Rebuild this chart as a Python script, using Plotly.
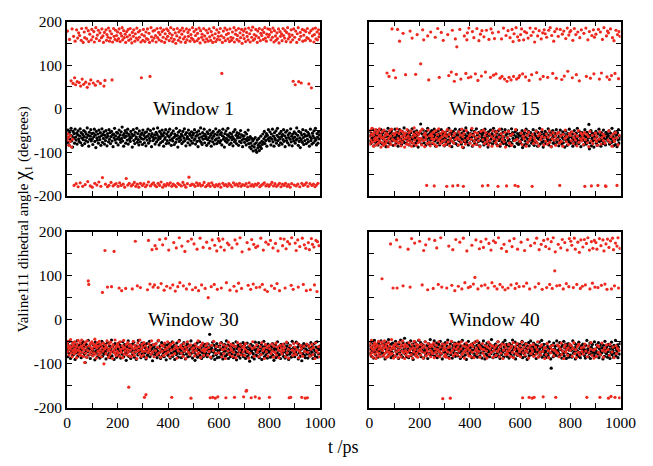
import plotly.graph_objects as go

# Sampling times (ps): one frame every 2 ps over the 1 ns run
t_ps = list(range(0, 1000, 2))

window_names = ["Window 1", "Window 15", "Window 30", "Window 40"]
x_tick_vals = [0, 100, 200, 300, 400, 500, 600, 700, 800, 900, 1000]
x_tick_text = ["0", "", "200", "", "400", "", "600", "", "800", "", "1000"]
y_tick_vals = [-200, -150, -100, -50, 0, 50, 100, 150, 200]
y_tick_text = ["-200", "", "-100", "", "0", "", "100", "", "200"]

# chi1 (degrees), window 1
w1_black = [
    -58, -77, -49, -66, -83, -54, -70, -61, -45, -74, -63, -88, -52, -68, -57, -79, -47, -65, -72, -56, -81, -60, -51, -69, -75,
    -62, -46, -78, -55, -67, -84, -59, -71, -50, -64, -80, -53, -73, -58, -66, -44, -76, -61, -86, -54, -70, -63, -48, -74, -57,
    -69, -82, -56, -64, -47, -75, -60, -89, -52, -67, -72, -58, -79, -49, -65, -71, -55, -84, -62, -46, -77, -59, -68, -53, -81,
    -61, -73, -50, -66, -85, -57, -63, -76, -48, -70, -55, -80, -64, -52, -74, -60, -87, -58, -67, -45, -72, -62, -78, -54, -69,
    -56, -83, -65, -49, -71, -60, -77, -53, -68, -42, -74, -61, -86, -57, -66, -50, -79, -63, -55, -72, -47, -81, -59, -70, -64,
    -75, -52, -67, -58, -88, -62, -48, -73, -60, -80, -54, -69, -65, -45, -77, -57, -71, -83, -51, -64, -76, -59, -68, -56, -82,
    -49, -70, -61, -78, -55, -66, -85, -53, -72, -63, -47, -79, -58, -68, -74, -50, -62, -87, -57, -65, -73, -46, -69, -60, -81,
    -67, -54, -76, -59, -44, -71, -64, -83, -52, -68, -78, -57, -63, -49, -75, -61, -86, -55, -70, -66, -48, -80, -58, -73, -62,
    -53, -79, -65, -47, -72, -60, -84, -56, -69, -74, -51, -66, -82, -58, -63, -77, -45, -70, -61, -88, -54, -67, -75, -50, -64,
    -71, -58, -80, -62, -52, -76, -67, -46, -73, -59, -85, -55, -68, -64, -78, -49, -70, -57, -83, -61, -74, -53, -66, -79, -60,
    -56, -72, -48, -69, -81, -63, -54, -75, -60, -87, -51, -67, -73, -58, -44, -77, -65, -82, -55, -70, -62, -47, -78, -59, -68,
    -64, -84, -53, -71, -57, -79, -66, -49, -74, -61, -86, -56, -68, -76, -52, -63, -81, -58, -72, -46, -69, -80, -60, -54, -75,
    -67, -50, -78, -59, -73, -55, -83, -62, -47, -70, -65, -88, -57, -74, -51, -68, -77, -60, -45, -72, -63, -82, -56, -66, -79,
    -58, -71, -64, -85, -53, -69, -76, -48, -73, -61, -80, -55, -67, -62, -84, -57, -75, -66, -50, -78, -60, -72, -87, -63, -69,
    -62, -77, -54, -70, -83, -58, -73, -66, -49, -80, -71, -88, -64, -79, -92, -68, -85, -74, -97, -70, -88, -81, -66, -95, -78,
    -100, -72, -90, -84, -68, -96, -79, -87, -63, -91, -75, -82, -58, -77, -69, -52, -80, -64, -73, -57, -86, -61, -70, -48, -67,
    -74, -53, -66, -83, -58, -70, -47, -76, -63, -86, -55, -68, -72, -51, -79, -61, -45, -73, -65, -84, -57, -69, -78, -52, -64,
    -81, -59, -71, -48, -75, -62, -87, -54, -67, -73, -50, -78, -60, -66, -83, -56, -70, -46, -76, -63, -85, -58, -68, -74, -53,
    -65, -79, -57, -72, -44, -69, -61, -84, -52, -75, -67, -89, -55, -71, -60, -77, -48, -66, -82, -58, -73, -63, -50, -80, -62,
    -70, -54, -76, -59, -86, -64, -47, -73, -68, -81, -56, -62, -78, -51, -67, -74, -45, -71, -83, -57, -65, -79, -53, -69, -60,
]
w1_red = [
    -72, 178, -58, -66, -84, 159, -75, -62, 64, -88, 183, -70, 58, 166, -176, 71, 155, 55, -172, 181, 62, 162, -179, 174, 60,
    168, -170, 52, 157, 184, 68, -178, 152, 56, 176, 163, -174, 61, 185, 160, 49, -167, 179, 154, 57, 171, -177, 66, 158, 182,
    -180, 165, 59, 177, 153, -171, 54, 186, 161, -175, 169, 63, 180, -168, 156, 174, 58, -178, 163, 183, -158, 167, 152, 52, 175,
    65, -173, 181, 157, 170, -179, 164, 185, -176, 155, 178, 162, -169, 172, 66, 153, -177, 184, 166, -174, 159, 180, -172, 168, 156,
    176, -178, 161, 183, -170, 154, 173, -176, 167, 186, 158, -173, 179, 163, -180, 171, 152, -160, 177, 165, -175, 182, 157, -171, 169,
    184, 160, -177, 151, 175, -174, 166, 181, -169, 155, 172, -178, 162, 185, -173, 158, 176, -180, 164, 179, -171, 153, 71, 170, -176,
    157, 182, -172, 167, 154, -179, 176, 161, -175, 183, 159, -168, 173, 152, 74, -177, 186, 165, -173, 156, 178, -170, 162, 180, -176,
    168, 153, -179, 184, 163, -171, 175, 158, -176, 170, 185, -168, 155, 177, -180, 164, 181, -174, 152, 172, -177, 160, 183, -172, 166,
    179, -175, 156, 173, -170, 186, 162, -178, 169, 154, -173, 182, 159, -176, 174, 150, -179, 167, 184, -171, 157, 176, -174, 163, 180,
    153, -177, 171, 185, -169, 160, 178, -175, 165, 152, -180, 183, 158, -172, 175, 166, -157, 181, 155, -176, 170, 162, -173, 186, 159,
    -174, 177, 154, -178, 168, 182, -170, 156, 173, -176, 161, 185, -172, 151, 179, -177, 164, 171, -175, 158, 184, -169, 167, 153, -179,
    180, 160, -176, 174, 155, -172, 183, 165, -178, 157, 177, -170, 169, 152, -175, 186, 162, -179, 172, 154, -174, 181, 159, -177, 166,
    175, -173, 158, 184, -180, 167, 81, 152, -171, 178, 163, -176, 185, 156, -174, 170, 181, -178, 160, 173, -172, 154, 183, -175, 164,
    157, -179, 176, 162, -170, 186, 153, -175, 171, 180, -173, 159, 168, -177, 184, 155, -171, 174, 163, -178, 182, 150, -174, 169, 178,
    161, -176, 183, 154, -172, 175, 166, -179, 158, 185, -170, 172, 153, -177, 180, 164, -174, 187, 157, -178, 170, 160, -173, 182, 167,
    -175, 152, 178, -171, 163, 184, -179, 156, 173, -176, 168, 181, -173, 159, 175, -170, 186, 162, -177, 155, 171, -174, 183, 165, -178,
    170, 182, -174, 158, 176, -169, 164, 185, -177, 153, 179, -172, 167, 157, -178, 174, 161, -175, 183, 151, -171, 177, 166, -179, 172,
    156, -173, 184, 168, -176, 162, 179, -171, 154, 175, -178, 186, 160, -174, 171, 165, -180, 153, 181, -172, 169, 158, 63, 183, -175,
    164, 55, 178, -177, 152, 172, -173, 186, 62, 159, -179, 175, 166, 59, -171, 182, 155, -176, 169, 180, -174, 157, 177, -170, 163,
    184, -178, 161, 57, 174, -172, 156, 179, 48, -176, 167, 183, -173, 153, 170, -179, 185, 160, -175, 176, 158, -171, 181, 165, 172,
]

# chi1 (degrees), window 15
w15_black = [
    -52, -74, -61, -80, -57, -68, -46, -71, -64, -85, -55, -66, -77, -59, -49, -73, -62, -83, -54, -69, -75, -58, -67, -48, -79,
    -63, -56, -82, -70, -51, -65, -76, -60, -87, -53, -72, -64, -45, -78, -58, -69, -81, -55, -66, -50, -74, -61, -84, -57, -68,
    -73, -47, -65, -79, -59, -70, -54, -86, -62, -67, -48, -76, -57, -71, -82, -52, -64, -75, -60, -44, -78, -56, -69, -63, -80,
    -58, -72, -50, -66, -83, -61, -74, -55, -68, -77, -46, -70, -63, -85, -53, -67, -59, -79, -65, -51, -73, -60, -88, -57, -69,
    -75, -54, -35, -68, -81, -58, -71, -49, -64, -78, -56, -66, -84, -52, -70, -61, -45, -76, -59, -67, -82, -55, -72, -63, -50,
    -69, -80, -57, -65, -47, -74, -60, -86, -53, -71, -64, -78, -51, -68, -58, -83, -62, -73, -48, -66, -77, -56, -70, -61, -85,
    -54, -67, -76, -59, -82, -50, -72, -63, -45, -79, -57, -69, -74, -55, -87, -61, -66, -52, -78, -64, -71, -47, -80, -58, -68,
    -62, -84, -53, -73, -60, -48, -76, -66, -81, -56, -70, -64, -89, -51, -75, -59, -68, -44, -77, -63, -72, -55, -83, -61, -67,
    -78, -57, -70, -49, -65, -86, -58, -74, -62, -52, -79, -67, -71, -46, -82, -60, -69, -75, -54, -64, -85, -56, -73, -50, -66,
    -60, -76, -55, -83, -68, -47, -72, -63, -80, -58, -66, -88, -53, -74, -61, -77, -49, -70, -65, -57, -81, -62, -45, -75, -69,
    -71, -52, -79, -64, -56, -84, -67, -50, -73, -61, -86, -58, -69, -47, -76, -63, -54, -80, -65, -72, -48, -78, -60, -83, -57,
    -66, -74, -51, -70, -85, -59, -77, -62, -46, -81, -55, -68, -73, -60, -87, -53, -71, -64, -49, -79, -57, -67, -82, -61, -75,
    -56, -78, -63, -71, -50, -89, -67, -59, -83, -54, -74, -65, -47, -80, -58, -69, -76, -52, -85, -62, -72, -55, -66, -79, -61,
    -73, -48, -68, -84, -57, -75, -62, -51, -78, -66, -86, -55, -70, -64, -45, -81, -60, -72, -53, -77, -67, -88, -58, -74, -63,
    -52, -80, -65, -57, -73, -69, -46, -83, -61, -76, -54, -71, -87, -59, -67, -50, -79, -64, -74, -56, -82, -62, -48, -70, -77,
    -68, -55, -85, -63, -72, -49, -76, -60, -81, -66, -53, -78, -70, -58, -88, -65, -51, -73, -62, -84, -57, -69, -75, -47, -64,
    -79, -61, -54, -74, -67, -86, -58, -71, -50, -77, -64, -82, -56, -69, -45, -75, -63, -80, -52, -72, -60, -87, -66, -55, -73,
    -57, -70, -83, -62, -48, -76, -65, -81, -54, -73, -59, -67, -36, -92, -78, -61, -50, -85, -68, -56, -74, -63, -88, -58, -71,
    -66, -52, -79, -64, -84, -57, -72, -47, -75, -69, -61, -86, -55, -73, -63, -80, -49, -68, -77, -60, -83, -54, -70, -65, -58,
    -74, -62, -51, -81, -67, -56, -78, -70, -45, -76, -64, -85, -58, -71, -53, -82, -66, -60, -87, -55, -72, -48, -79, -63, -69,
]
w15_red = [
    -64, -81, -50, -72, -58, -45, -77, -61, -86, -55, -69, -74, -48, -66, -83, -57, -71, -52, -79, -63, -46, -75, -60, -88, -67,
    -53, -78, -66, -84, -49, -71, -62, -80, -56, -74, 82, -59, -87, -68, 74, -51, -76, -63, -82, -47, 183, -70, -57, 88, -73,
    -60, -83, 71, -54, -75, -46, 182, -68, -79, -57, 155, -72, -50, -85, -64, -77, -53, 173, -70, -61, -88, -56, 78, -67, -81,
    -48, -74, -63, -82, -55, -69, 178, -76, -51, -86, 162, -65, -79, -58, -44, -72, -61, 79, -84, -54, 170, -67, -78, -59, -70,
    -75, -52, 103, -68, -83, -47, 181, -73, 158, -60, -87, -56, -71, -64, -176, -80, 167, -49, 66, -77, -62, -85, 176, -58, -69,
    -63, -78, -54, -71, -177, -82, 164, -50, -67, -86, -59, 184, -73, -46, 72, -69, -80, -57, 175, -65, -75, -52, 157, -84, -61,
    -72, -55, -81, -63, -178, -48, 170, -76, 76, -59, -85, -68, -51, 84, -74, 180, -177, -62, -79, 63, -56, 160, -70, 79, 142,
    -66, -176, -83, -53, -71, 182, -60, 68, -77, -47, -88, -64, -178, -57, 167, -73, -81, 81, -50, 158, 174, -68, 71, 185, -62,
    -79, -58, 73, -70, -45, 177, -84, -61, 163, -75, -54, 80, -67, -82, 184, -56, 65, -73, 156, -64, -87, 171, -52, 75, 179,
    -177, -71, -49, 165, -80, -62, 84, -55, 180, -76, -68, -176, -83, 159, -58, -74, 72, 183, -64, -86, 174, -51, 77, -69, 161,
    -60, -78, 80, -53, -72, -85, -178, 176, -65, -47, 70, -81, -57, 160, 74, -70, -63, 185, -76, 68, -54, -88, 168, -177, 63,
    -67, 179, -52, 72, -79, 163, -61, 66, -84, 182, -58, 154, 74, 172, -73, -176, -48, 186, 68, -70, 165, -178, 71, 157, 76,
    -75, 170, -56, 183, -82, 80, -63, 158, -69, 177, -50, 73, -86, 174, -61, -77, 162, -54, 65, -71, 185, -66, 168, 78, -178,
    -59, 176, -80, -67, 153, -73, 184, -52, 83, -78, 167, -62, -85, 179, -57, 68, -71, 160, -64, -48, 174, 74, -83, 181, -66,
    172, -74, -58, 164, -81, 72, -65, 180, -51, -77, 186, -60, -87, 168, -69, 81, -55, 155, -72, 177, -63, -84, 70, 183, -57,
    -70, 166, -54, -79, -176, 182, -62, -75, 67, 171, -86, -59, 178, 75, -68, -49, 161, -76, -64, 185, 86, -82, 169, -57, 176,
    -61, 179, -73, -53, 71, 157, -80, -66, 184, -58, -72, 170, 78, -85, -63, 176, -50, -77, 64, 163, -69, -56, 181, -74, -60,
    -67, -82, 173, -55, -178, -71, 185, 74, -59, -78, 158, -64, -87, 177, -52, 70, -74, -177, 168, -61, -80, 181, 80, 164, -69,
    -56, 171, -75, -63, -84, -176, 182, -70, 68, -53, 176, -81, 82, -66, 159, -58, -73, 186, -62, -79, -177, -178, 167, 73, 178,
    -72, 174, -51, 67, -77, 183, -64, 76, -86, 163, -58, -69, 156, -75, 81, -55, 180, -67, -176, 170, -83, 69, 177, -61, 166,
]

# chi1 (degrees), window 30
w30_black = [
    -70, -55, -84, -63, -76, -49, -68, -88, -59, -73, -65, -81, -52, -71, -78, -61, -90, -57, -67, -75, -48, -83, -64, -72, -58,
    -79, -62, -69, -86, -54, -74, -66, -50, -82, -60, -77, -97, -70, -56, -85, -63, -72, -47, -80, -67, -59, -88, -65, -74, -53,
    -68, -81, -57, -73, -64, -91, -51, -76, -70, -60, -84, -66, -55, -79, -62, -87, -71, -58, -75, -49, -83, -67, -61, -78, -72,
    -56, -74, -89, -63, -69, -52, -80, -67, -77, -59, -86, -65, -71, -46, -82, -61, -73, -57, -90, -68, -54, -76, -64, -85, -60,
    -75, -66, -53, -81, -70, -58, -87, -62, -72, -78, -50, -68, -84, -64, -56, -77, -69, -92, -60, -74, -63, -48, -83, -71, -57,
    -65, -88, -61, -73, -55, -79, -68, -51, -85, -66, -74, -59, -90, -70, -62, -80, -47, -76, -64, -71, -58, -86, -67, -53, -78,
    -72, -60, -83, -56, -75, -64, -89, -69, -54, -81, -67, -76, -62, -49, -84, -70, -58, -78, -65, -93, -57, -73, -61, -80, -68,
    -55, -77, -66, -86, -71, -48, -80, -63, -74, -59, -88, -67, -52, -82, -69, -75, -60, -84, -56, -72, -64, -91, -70, -57, -79,
    -81, -63, -70, -54, -87, -68, -76, -61, -50, -83, -65, -73, -58, -90, -71, -66, -79, -53, -74, -62, -85, -69, -47, -77, -64,
    -69, -86, -57, -75, -62, -80, -52, -72, -67, -89, -60, -78, -64, -55, -84, -70, -73, -59, -82, -66, -48, -76, -63, -87, -71,
    -58, -74, -66, -92, -61, -79, -70, -53, -85, -64, -77, -68, -50, -81, -72, -63, -88, -57, -75, -69, -83, -60, -73, -56, -80,
    -76, -62, -84, -69, -55, -78, -67, -33, -73, -60, -87, -65, -71, -51, -82, -74, -58, -90, -68, -63, -79, -54, -86, -70, -61,
    -73, -85, -59, -68, -77, -52, -81, -66, -89, -62, -74, -56, -70, -83, -64, -48, -79, -71, -57, -88, -67, -75, -60, -84, -69,
    -63, -78, -71, -54, -86, -67, -60, -80, -73, -50, -91, -65, -76, -58, -82, -70, -62, -87, -55, -74, -68, -79, -61, -52, -84,
    -80, -57, -72, -88, -64, -75, -53, -83, -69, -61, -78, -94, -66, -56, -74, -70, -85, -59, -77, -63, -89, -68, -51, -81, -73,
    -67, -82, -60, -74, -52, -86, -71, -64, -79, -57, -90, -69, -76, -62, -49, -84, -72, -58, -80, -66, -75, -87, -55, -70, -63,
    -74, -59, -85, -68, -78, -62, -54, -81, -70, -92, -65, -73, -57, -86, -67, -76, -50, -83, -71, -61, -79, -64, -88, -56, -72,
    -61, -77, -69, -83, -55, -72, -87, -66, -75, -60, -80, -53, -70, -90, -64, -78, -58, -74, -85, -67, -49, -82, -71, -63, -76,
    -84, -65, -73, -51, -79, -68, -62, -89, -56, -75, -71, -83, -60, -67, -93, -59, -77, -64, -54, -81, -72, -86, -66, -58, -78,
    -70, -87, -58, -76, -63, -82, -69, -52, -80, -74, -61, -88, -67, -55, -79, -71, -84, -62, -73, -50, -85, -65, -77, -68, -60,
]
w30_red = [
    -56, -72, -49, -64, -80, -59, -67, -45, -75, -62, -84, -53, -70, -58, -77, -50, -66, -73, -61, -86, -55, -69, -47, -78, -63,
    -71, -52, -81, -60, -46, -74, -65, -83, -57, -68, -97, -51, -76, -62, -85, -48, -70, 88, 80, -59, -79, -54, -73, -64, -50,
    -67, -82, -55, -75, -61, -44, -78, -58, -87, -64, -52, -72, -60, -80, -49, -69, -76, -56, -84, -63, 62, -71, -53, -100, -66,
    157, -58, -77, -63, -48, 74, -70, -85, -55, -66, -79, -51, -73, 75, -62, -88, -57, -69, 155, -75, -46, -64, -81, -59, -72,
    -54, -76, -61, 72, -83, -50, -68, -74, 66, -59, -86, -65, -47, -78, -63, -71, 71, -56, -80, -67, -52, -74, -153, -60, -82,
    -69, -57, -84, -62, 70, -75, -49, -66, -81, -58, 178, -73, -64, -88, 77, -53, -70, -61, -78, -46, 73, -67, -83, -56, -72,
    -63, -80, -52, -176, -71, -59, -170, -86, -66, 68, -74, 180, -55, -69, 81, -62, -78, -48, 159, -73, 74, -57, -84, 79, 168,
    -70, -54, 161, -79, -62, 73, -47, -75, 182, -66, -85, 82, -58, -72, 170, -60, -81, 67, -53, -68, 184, -77, 76, -64, -50,
    -73, 158, -61, -84, 72, -56, -69, -176, -80, 79, -52, 175, -66, -77, 65, -59, 163, -87, -64, 75, -71, -49, 186, 84, -62,
    -58, -76, 167, -65, -83, 77, -54, -71, 155, -62, -88, 70, -68, -50, 178, -74, -60, 81, -79, -57, -178, 183, -66, 68, -73,
    -64, 172, -82, -55, 73, -70, -61, 160, -78, -48, 66, -75, -63, 185, -86, -58, 79, -69, -53, 164, -81, -67, -72, 71, -59,
    -67, 176, -54, -80, 50, -63, -72, 162, -177, -85, 75, -58, 181, -176, -70, -49, 80, 169, -178, -76, -61, 156, 69, -175, 184,
    -75, 179, -62, -53, 165, 72, -84, -68, 183, -57, -77, 158, -66, -88, -177, 84, -60, 174, -71, -51, 170, -79, 67, -64, -56,
    -69, 163, -83, -58, -74, 76, -176, 181, -61, -86, 65, 172, -52, -78, 83, -66, -70, 186, -57, -80, 71, 154, -63, -73, -175,
    -60, -81, -67, -54, -162, -160, 175, -72, 78, -87, 160, -59, -76, 69, -177, 182, -65, -50, 81, 171, -83, -62, -175, 164, 73,
    -57, -74, 167, -68, -84, -178, 74, -61, 185, -79, -52, 80, -70, 158, -65, -88, 68, -56, 176, -73, -63, 64, -82, 171, -59,
    -176, -66, 180, -77, 77, -55, -71, 163, -85, -60, 71, -74, 173, -53, -80, 82, -62, 156, -69, -86, 66, -58, 184, -72, -64,
    -78, 168, -56, -70, 183, -63, 72, -84, 161, -51, -75, 177, -67, -87, -177, 172, -59, -176, 78, 186, -69, -81, 69, -54, -73,
    -62, 174, -79, 157, -68, -53, 181, 74, -86, -71, 166, -58, -76, -65, -176, 185, -83, 80, -60, 170, -72, -178, 162, 66, -55,
    -177, -74, 175, -60, 159, -82, 68, -67, 184, -56, 171, -79, -63, 165, 79, -88, -52, 180, -70, 64, 177, -75, -61, 168, -84,
]

# chi1 (degrees), window 40
w40_black = [
    -59, -77, -66, -50, -83, -62, -72, -55, -87, -68, -47, -74, -61, -80, -56, -69, -64, -85, -52, -71, -58, -78, -65, -48, -75,
    -70, -54, -82, -63, -76, -57, -89, -66, -51, -73, -60, -84, -68, -45, -79, -62, -71, -56, -86, -67, -74, -53, -81, -64, -58,
    -66, -83, -49, -72, -61, -78, -57, -68, -88, -55, -75, -63, -46, -80, -70, -59, -85, -52, -73, -65, -42, -77, -60, -69, -84,
    -53, -71, -64, -86, -58, -74, -67, -48, -81, -62, -76, -55, -90, -69, -60, -79, -51, -72, -66, -83, -57, -75, -63, -47, -70,
    -78, -61, -52, -84, -69, -56, -73, -64, -87, -59, -70, -50, -81, -66, -75, -58, -88, -62, -54, -77, -67, -45, -80, -71, -60,
    -65, -79, -57, -72, -48, -83, -68, -61, -76, -53, -86, -64, -70, -56, -82, -74, -49, -67, -78, -60, -89, -63, -55, -73, -66,
    -74, -52, -81, -66, -59, -77, -46, -70, -85, -62, -68, -55, -79, -72, -50, -87, -64, -58, -75, -69, -53, -83, -61, -76, -67,
    -57, -82, -68, -51, -74, -63, -88, -59, -71, -78, -47, -66, -84, -60, -73, -55, -80, -65, -90, -58, -70, -62, -49, -77, -64,
    -81, -63, -73, -56, -86, -69, -54, -76, -61, -83, -67, -50, -79, -71, -58, -85, -64, -74, -52, -68, -82, -60, -75, -57, -87,
    -62, -75, -48, -70, -64, -89, -58, -78, -66, -53, -81, -69, -73, -60, -84, -56, -67, -77, -45, -72, -63, -86, -59, -71, -79,
    -68, -55, -84, -61, -76, -66, -50, -82, -72, -59, -88, -64, -57, -79, -69, -74, -52, -85, -62, -70, -47, -78, -65, -56, -83,
    -73, -60, -69, -87, -54, -75, -63, -80, -58, -71, -46, -84, -67, -62, -78, -51, -89, -65, -72, -57, -81, -68, -55, -76, -61,
    -56, -80, -65, -74, -49, -86, -70, -58, -77, -63, -83, -54, -72, -67, -90, -60, -75, -52, -82, -66, -71, -48, -79, -61, -68,
    -77, -62, -53, -81, -68, -72, -57, -88, -64, -75, -59, -70, -84, -51, -66, -79, -61, -73, -47, -85, -63, -69, -56, -80, -74,
    -64, -86, -71, -55, -78, -61, -82, -67, -50, -75, -63, -89, -110, -58, -73, -69, -84, -53, -77, -66, -60, -81, -72, -48, -70,
    -59, -74, -83, -66, -52, -79, -68, -62, -87, -57, -71, -76, -49, -82, -64, -73, -55, -88, -67, -60, -78, -54, -85, -69, -63,
    -80, -58, -70, -85, -63, -48, -76, -66, -73, -54, -89, -61, -68, -79, -57, -72, -83, -51, -74, -65, -86, -62, -59, -77, -67,
    -55, -72, -64, -81, -69, -87, -58, -75, -47, -70, -66, -84, -60, -77, -53, -88, -71, -62, -79, -56, -73, -67, -82, -50, -76,
    -69, -84, -57, -73, -62, -78, -52, -86, -66, -60, -80, -71, -55, -75, -64, -89, -58, -70, -83, -49, -74, -65, -77, -61, -85,
    -72, -56, -81, -67, -88, -60, -74, -51, -79, -65, -70, -85, -58, -76, -63, -47, -82, -68, -73, -57, -86, -62, -69, -78, -54,
]
w40_red = [
    -71, -54, -80, -62, -47, -75, -66, -85, -58, -69, -52, -78, -63, -88, -56, -73, -60, -82, -49, -67, -76, -59, -84, -64, -51,
    93, -70, -57, -81, -64, -48, -76, -61, -86, -55, -72, -66, -83, -52, -74, -60, -79, 172, -68, -45, -77, -63, 72, -87, -58,
    -65, -82, -54, -73, 181, 72, -60, -86, -69, -51, -78, 165, -63, -84, -57, -71, -48, 77, -75, -62, -88, -56, -70, -80, -59,
    -74, -61, 160, -83, -52, -70, 74, -66, -79, 184, -57, -87, -64, -73, -49, 174, -68, -81, -55, -76, -62, -85, -58, -71, -46,
    178, -67, -80, -56, -72, 79, -63, -87, 157, -59, -75, -50, 170, -82, -65, -71, 68, -54, -78, 183, -61, -69, -84, -57, -73,
    -60, -77, 71, -53, -86, 180, -66, -74, -58, 163, -81, -68, 80, -50, -72, -84, -62, 186, -76, 74, -55, -179, -70, -64, -83,
    -57, -79, -68, -85, 72, -52, -73, -63, 167, -88, -60, -178, -75, -49, 78, -70, 159, -82, -64, -56, 66, -77, 182, -67, -54,
    -80, -62, 76, -71, -55, 176, -84, -66, -50, 70, -78, -59, 185, -73, -87, 84, -61, -69, -53, 156, -76, -64, 73, -82, -58,
    -69, 75, -83, -56, 169, -74, -61, 81, -86, -52, 96, -70, 181, -65, -78, -48, 70, -72, -58, 161, -85, -63, 177, 77, -67,
    -54, -76, 164, -68, -82, 79, -59, 183, -71, -87, -62, 72, -51, 173, -79, -66, -57, 158, -74, 84, -60, -85, 179, -70, 76,
    -63, 175, -81, -58, 70, -72, -50, 186, -67, -84, 80, -61, -76, 162, -55, 74, -88, -69, 171, -57, 68, -79, -64, 155, -73,
    -78, 72, -56, -70, 179, -65, -83, 79, -60, 166, -74, -52, -86, 184, -68, 71, -61, -77, 82, -54, 160, -80, -66, 75, -72,
    -59, -84, 176, -67, -51, -177, -75, 76, -62, 157, -80, -70, -55, 83, -73, 182, -64, -87, -176, 70, -58, 168, -77, -66, -178,
    -71, -56, -83, -176, 174, 74, -62, -78, 185, -68, -50, -85, 82, 159, -74, -60, -80, 171, -57, 69, -72, -175, 180, -65, -88,
    -63, 166, -79, 73, -54, 183, -70, -86, 161, 80, -61, -75, 177, -67, 71, -58, 186, -82, -69, 111, 154, -176, -73, 77, -57,
    -76, 171, -60, -84, 78, -66, 163, -53, -79, 182, -71, 70, -88, -62, 175, -57, -74, 82, -68, 158, -81, -64, 75, 184, -55,
    -70, 178, -59, 169, -83, -65, 73, -52, 185, -77, 160, -68, -86, 80, -61, 176, -74, -56, 153, -80, 71, 181, -64, -72, 76,
    165, -78, -62, 182, -55, 79, -71, 173, -176, -84, 186, -60, -75, 158, 70, -67, -52, 177, -81, 83, 162, -69, -87, 180, 74,
    -66, 175, -83, 160, -58, 73, -74, -61, 184, -176, -79, 168, 78, -53, -70, 181, -85, 156, -64, 81, -72, 172, -57, 69, 183,
    -68, -178, 164, -81, -56, 179, -174, 70, -73, 185, -62, 159, -86, 77, -176, 174, -59, -77, 167, -65, 186, 72, -70, -177, 162,
]

series_black = [w1_black, w15_black, w30_black, w40_black]
series_red = [w1_red, w15_red, w30_red, w40_red]

W, H = 653, 466
x_domains = [[65 / W, 326 / W], [377 / W, 636 / W]]
y_domains = [[1 - 194 / H, 1 - 13 / H], [1 - 414 / H, 1 - 231 / H]]
serif = "Liberation Serif"
BLACK = "#000000"
RED = "#ee2a20"

fig = go.Figure()
layout = dict(
    width=W, height=H,
    margin=dict(l=0, r=0, t=0, b=0),
    paper_bgcolor="white", plot_bgcolor="white",
    showlegend=False,
    font=dict(family=serif, color="black"),
)

annotations = []
for i in range(4):
    row, col = divmod(i, 2)
    idx = i + 1
    xname = "x" if idx == 1 else f"x{idx}"
    yname = "y" if idx == 1 else f"y{idx}"
    for ys, color in ((series_black[i], BLACK), (series_red[i], RED)):
        n = min(len(ys), len(t_ps))
        fig.add_trace(go.Scatter(
            x=t_ps[:n], y=ys[:n], mode="markers",
            marker=dict(color=color, size=3.2, line=dict(width=0)),
            xaxis=xname, yaxis=yname, hoverinfo="skip",
        ))
    common = dict(
        showline=True, linecolor="black", linewidth=1.6, mirror="ticks",
        ticks="inside", ticklen=5, tickwidth=1.2, tickcolor="black",
        showgrid=False, zeroline=False,
        tickfont=dict(family=serif, size=15.5, color="black"),
    )
    layout["xaxis" if idx == 1 else f"xaxis{idx}"] = dict(
        common, domain=x_domains[col], anchor=yname, range=[0, 1000],
        tickmode="array", tickvals=x_tick_vals, ticktext=x_tick_text,
        showticklabels=(row == 1),
    )
    layout["yaxis" if idx == 1 else f"yaxis{idx}"] = dict(
        common, domain=y_domains[row], anchor=xname, range=[-200, 200],
        tickmode="array", tickvals=y_tick_vals, ticktext=y_tick_text,
        showticklabels=(col == 0),
    )
    annotations.append(dict(
        text=window_names[i], x=500, y=0, xref=xname, yref=yname,
        xanchor="center", yanchor="middle",
        showarrow=False, font=dict(family=serif, size=19.5, color="black"),
    ))

annotations.append(dict(
    text="t /ps", x=350 / W, y=1 - 455 / H, xref="paper", yref="paper",
    xanchor="center", yanchor="middle",
    showarrow=False, font=dict(family=serif, size=18, color="black"),
))
annotations.append(dict(
    text="Valine111 dihedral angle <span style='font-size:20px'>χ</span><sub>1</sub> (degrees)",
    x=18 / W, y=1 - 218 / H, xref="paper", yref="paper", textangle=-90,
    xanchor="center", yanchor="middle",
    showarrow=False, font=dict(family=serif, size=15, color="black"),
))
layout["annotations"] = annotations

fig.update_layout(**layout)
fig.write_html("out.html")
